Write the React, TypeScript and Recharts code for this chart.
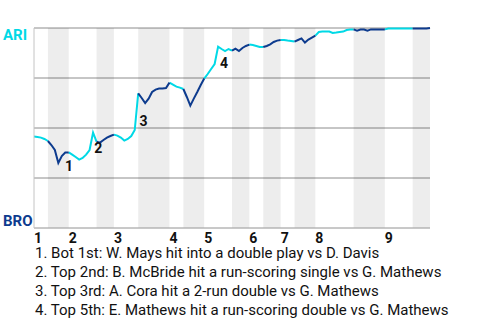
import React from 'react';
import { LineChart, Line, XAxis, YAxis, CartesianGrid, ReferenceArea, ReferenceDot } from 'recharts';

const ARI_COLOR = '#00d9e6';
const BRO_COLOR = '#0d3b8e';

// win probability for ARI, start of game then each play, grouped by half inning (top 1st, bot 1st, ...)
const startWp = 45.7;
const wpByHalf: number[][] = [
  [45.5, 45.2, 44.5, 43.5],
  [41.5, 39, 32.5, 36, 37.7, 37.8],
  [36.7, 35.5, 34.2, 35, 36.7, 39, 47.7, 43.2],
  [42.7, 44, 45.2, 46, 46.7],
  [46.2, 45.2, 43.7, 44.5, 46, 49, 67.3],
  [65, 62.5, 64.7, 68, 69.2, 69.7, 69.7, 70, 72.7],
  [71.7, 70.7, 70.2, 69.5],
  [65.5, 61.2, 64.7, 68, 71.5, 74.7],
  [77, 79.5, 82, 90.7, 89.5, 88.5, 89.5, 88.7],
  [89.7, 88.5, 90, 91, 91.7],
  [91.5, 91, 90.5, 90.5],
  [91, 91.8, 93, 93.7, 94],
  [94, 93.7, 93.5, 93.2],
  [94, 94.8, 92.7, 94.2, 95.2, 96.2],
  [98, 98.2, 98.2, 98.2, 97.5, 97.7, 98, 98.2, 99, 99.2, 99.3],
  [98.7, 99.2, 99.2, 98.7, 99.3, 99.3, 99.3, 99.3, 99.3],
  [99.7, 99.7, 99.7, 99.7, 99.7, 99.7, 99.7, 99.7],
  [99.7, 99.7, 99.7, 99.7, 100],
];

const innings = ['1', '2', '3', '4', '5', '6', '7', '8', '9'];

const notes = [
  { play: 7, label: '1', text: '1. Bot 1st: W. Mays hit into a double play vs D. Davis' },
  { play: 17, label: '2', text: '2. Top 2nd: B. McBride hit a run-scoring single vs G. Mathews' },
  { play: 30, label: '3', text: '3. Top 3rd: A. Cora hit a 2-run double vs G. Mathews' },
  { play: 53, label: '4', text: '4. Top 5th: E. Mathews hit a run-scoring double vs G. Mathews' },
];

// label nudges (dx, dy) from the play point
const noteNudge: Record<string, [number, number]> = {
  '1': [6.7, 8],
  '2': [1.3, 20.5],
  '3': [1.2, 33],
  '4': [1.8, 21.6],
};

type Row = { i: number; wp: number; ari?: number; bro?: number };

const rows: Row[] = [{ i: 0, wp: startWp }];
const halfSpans: Array<[number, number]> = [];
wpByHalf.forEach(vals => {
  const start = rows.length - 1;
  vals.forEach(v => rows.push({ i: rows.length, wp: v }));
  halfSpans.push([start, rows.length - 1]);
});
halfSpans.forEach(([s, e], h) => {
  for (let k = s; k <= e; k++) {
    if (h % 2 === 0) rows[k].ari = rows[k].wp;
    else rows[k].bro = rows[k].wp;
  }
});
const totalPlays = rows.length - 1;
const inningStarts = halfSpans.filter((_, h) => h % 2 === 0).map(s => s[0]);
const bottomSpans = halfSpans.filter((_, h) => h % 2 === 1);

const FONT = 'Roboto, sans-serif';

const InningTick = (props: any) => {
  const idx = inningStarts.indexOf(props.payload.value);
  return (
    <text x={props.x} y={props.y + 15} textAnchor="start" fontFamily={FONT} fontWeight="bold" fontSize={14} fill="#111">
      {innings[idx]}
    </text>
  );
};

const TeamTick = (props: any) => {
  const v = props.payload.value;
  if (v === 100) {
    return <text x={3} y={props.y + 12} fontFamily={FONT} fontWeight="bold" fontSize={15} fill={ARI_COLOR}>ARI</text>;
  }
  if (v === 0) {
    return <text x={3} y={props.y - 2} fontFamily={FONT} fontWeight="bold" fontSize={15} fill={BRO_COLOR}>BRO</text>;
  }
  return <g />;
};

export default function App() {
  return (
    <div style={{ position: 'relative', width: 480, height: 320, fontFamily: FONT }}>
      <style>{'body{margin:0}'}</style>
      <LineChart width={480} height={245} data={rows} margin={{ top: 28, right: 50, bottom: 0, left: 0 }}>
        {bottomSpans.map(([s, e]) => (
          <ReferenceArea key={s} x1={s} x2={e} y1={0} y2={100} fill="#000" fillOpacity={0.07} stroke="none" />
        ))}
        <CartesianGrid vertical={false} stroke="#8c8c8c" />
        <XAxis
          type="number"
          dataKey="i"
          domain={[0, totalPlays]}
          ticks={inningStarts}
          interval={0}
          height={17}
          tickSize={0}
          tickMargin={0}
          tickLine={false}
          axisLine={{ stroke: '#cccccc' }}
          tick={<InningTick />}
        />
        <YAxis
          type="number"
          domain={[0, 100]}
          ticks={[0, 25, 50, 75, 100]}
          width={34}
          tickLine={false}
          axisLine={{ stroke: '#c4c4c4' }}
          tick={<TeamTick />}
        />
        <Line dataKey="ari" stroke={ARI_COLOR} strokeWidth={2} dot={false} activeDot={false} connectNulls={false} isAnimationActive={false} />
        <Line dataKey="bro" stroke={BRO_COLOR} strokeWidth={2} dot={false} activeDot={false} connectNulls={false} isAnimationActive={false} />
        {notes.map(n => (
          <ReferenceDot
            key={n.label}
            x={n.play}
            y={rows[n.play].wp}
            r={1}
            fill="none"
            stroke="none"
            label={{
              content: (p: any) => {
                const vb = p.viewBox || {};
                const cx = (vb.x ?? 0) + (vb.width ?? 0) / 2;
                const cy = (vb.y ?? 0) + (vb.height ?? 0) / 2;
                const [dx, dy] = noteNudge[n.label];
                return (
                  <text x={cx + dx} y={cy + dy} fontFamily={FONT} fontWeight="bold" fontSize={14} fill="#111">
                    {n.label}
                  </text>
                );
              },
            }}
          />
        ))}
      </LineChart>
      <div style={{ position: 'absolute', top: 244, left: 35, fontSize: 15, lineHeight: '19px', color: '#111', whiteSpace: 'nowrap' }}>
        {notes.map(n => (
          <div key={n.label}>{n.text}</div>
        ))}
      </div>
    </div>
  );
}
